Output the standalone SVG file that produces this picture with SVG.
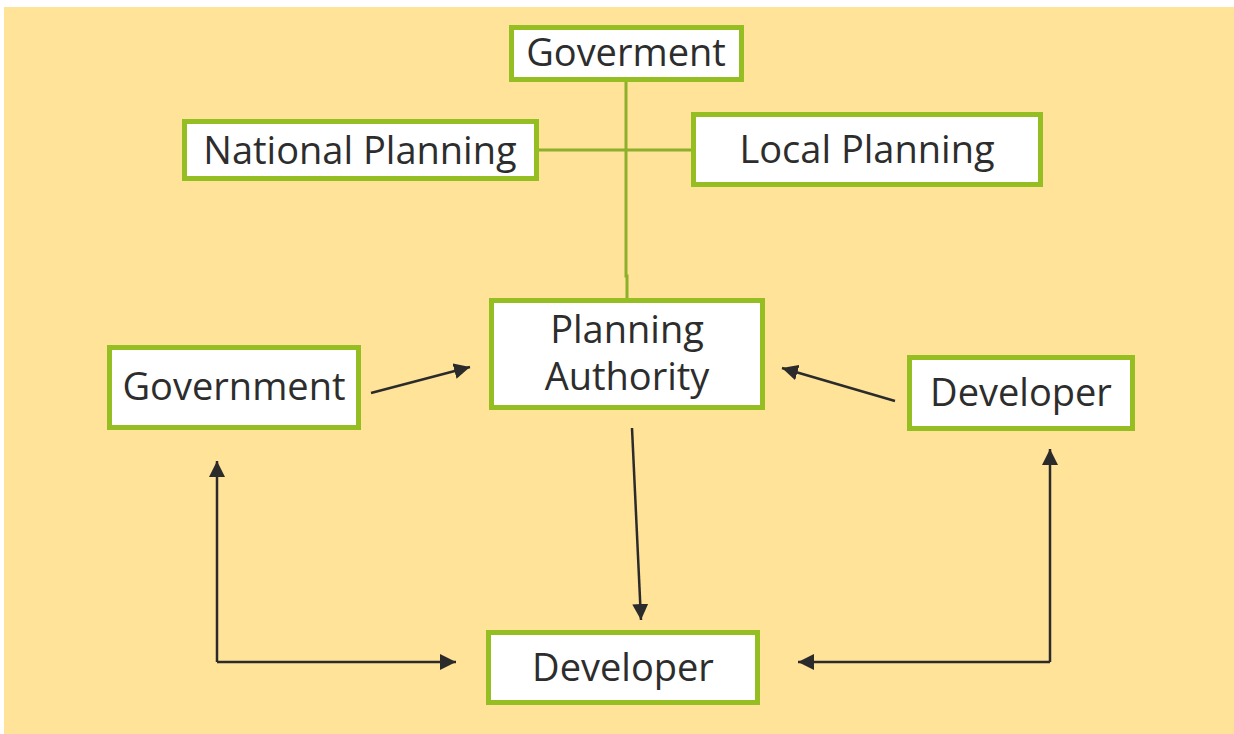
<svg xmlns="http://www.w3.org/2000/svg" width="1234" height="734" viewBox="0 0 1234 734">
<defs>
<style>
.box{fill:#fff;stroke:#95BE23;stroke-width:5;}
.lbl{font-family:"Open Sans","Noto Sans","Liberation Sans",sans-serif;font-size:38px;fill:#2d2d2d;text-anchor:middle;}
.tree{stroke:#8DB02A;stroke-width:3;fill:none;}
.arr{stroke:#2b2b2b;stroke-width:2.5;fill:none;marker-end:url(#ah);}
</style>
<marker id="ah" markerUnits="userSpaceOnUse" markerWidth="16" markerHeight="16" viewBox="0 0 16 16" refX="16" refY="8" orient="auto">
<path d="M0,0 L16,8 L0,16 Z" fill="#2b2b2b"/>
</marker>
</defs>
<rect x="4" y="7" width="1230" height="727" fill="#FFE398"/>
<g id="connectors">
<polyline class="tree" points="626,80 626,276 627,276 627,298"/>
<line class="tree" x1="538" y1="150" x2="692" y2="150"/>
<line class="arr" x1="371" y1="393" x2="470" y2="367"/>
<line class="arr" x1="895" y1="401" x2="782" y2="368"/>
<line class="arr" x1="632" y1="428" x2="641" y2="620"/>
<polyline class="arr" points="217,662 217,461"/>
<polyline class="arr" points="217,662 456,662"/>
<polyline class="arr" points="1050,662 1050,449"/>
<polyline class="arr" points="1050,662 798,662"/>
</g>
<g id="goverment"><rect class="box" x="511.5" y="27.5" width="230" height="52"/><text class="lbl" x="626" y="66">Goverment</text></g>
<g id="national-planning"><rect class="box" x="184.5" y="121.5" width="352" height="57"/><text class="lbl" x="360" y="164">National Planning</text></g>
<g id="local-planning"><rect class="box" x="693.5" y="114.5" width="347" height="70"/><text class="lbl" x="867" y="163">Local Planning</text></g>
<g id="planning-authority"><rect class="box" x="491.5" y="300.5" width="271" height="107"/><text class="lbl" x="627" y="343">Planning</text><text class="lbl" x="627" y="390">Authority</text></g>
<g id="government"><rect class="box" x="109.5" y="347.5" width="249" height="80"/><text class="lbl" x="234" y="400">Government</text></g>
<g id="developer-right"><rect class="box" x="909.5" y="357.5" width="223" height="71"/><text class="lbl" x="1021" y="406">Developer</text></g>
<g id="developer-bottom"><rect class="box" x="488.5" y="632.5" width="269" height="70"/><text class="lbl" x="623" y="681">Developer</text></g>
</svg>
